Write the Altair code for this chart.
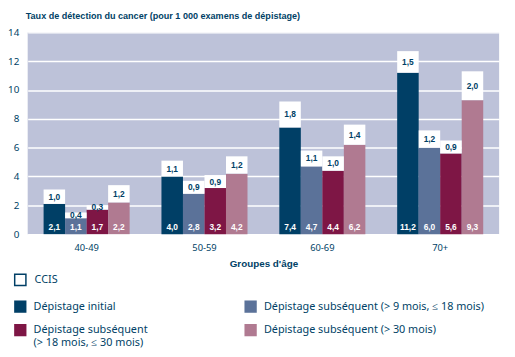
import altair as alt
import pandas as pd

NAVY = "#003F66"

groups = ["40-49", "50-59", "60-69", "70+"]
series = [
    "Dépistage initial",
    "Dépistage subséquent (> 9 mois, ≤ 18 mois)",
    "Dépistage subséquent (> 18 mois, ≤ 30 mois)",
    "Dépistage subséquent (> 30 mois)",
]
colors = ["#003F66", "#5B7299", "#7E1645", "#B07A91"]

# invasive cancer detection rate (coloured part)
inv_initial = [2.1, 4.0, 7.4, 11.2]
inv_9_18 = [1.1, 2.8, 4.7, 6.0]
inv_18_30 = [1.7, 3.2, 4.4, 5.6]
inv_30 = [2.2, 4.2, 6.2, 9.3]

# CCIS rate (white part)
ccis_initial = [1.0, 1.1, 1.8, 1.5]
ccis_9_18 = [0.4, 0.9, 1.1, 1.2]
ccis_18_30 = [0.3, 0.9, 1.0, 0.9]
ccis_30 = [1.2, 1.2, 1.4, 2.0]

y_ticks = [0, 2, 4, 6, 8, 10, 12, 14]

inv_all = [inv_initial, inv_9_18, inv_18_30, inv_30]
ccis_all = [ccis_initial, ccis_9_18, ccis_18_30, ccis_30]
rows = []
for s, invs, cc in zip(series, inv_all, ccis_all):
    for g, a, b in zip(groups, invs, cc):
        rows.append({"group": g, "series": s, "inv": a, "ccis": b})
df = pd.DataFrame(rows)

FONT = "Noto Sans"
BOLD = "Liberation Sans"

base = alt.Chart(df).transform_calculate(
    top="datum.inv + datum.ccis",
    mid="datum.inv + datum.ccis / 2",
    zero="0",
    cat="'CCIS'",
    inv_lbl="replace(format(datum.inv, '.1f'), '.', ',')",
    ccis_lbl="replace(format(datum.ccis, '.1f'), '.', ',')",
).encode(
    x=alt.X(
        "group:N",
        sort=groups,
        scale=alt.Scale(paddingInner=0.27, paddingOuter=0.135),
        axis=alt.Axis(
            title="Groupes d'âge",
            titleFont=BOLD,
            titleFontSize=10,
            titleFontWeight="bold",
            titleColor=NAVY,
            titlePadding=6,
            labelAngle=0,
            labelFont=FONT,
            labelFontSize=9.5,
            labelColor=NAVY,
            labelPadding=9,
            domain=False,
            ticks=False,
            grid=False,
        ),
    ),
    xOffset=alt.XOffset("series:N", sort=series,
                        scale=alt.Scale(paddingInner=0, paddingOuter=0)),
)

yscale = alt.Scale(domain=[0, 14], nice=False)
yaxis = alt.Axis(
    values=y_ticks,
    title=None,
    grid=True,
    gridColor="white",
    gridWidth=1.5,
    domain=False,
    ticks=False,
    labelOverlap=False,
    labelFont=FONT,
    labelFontSize=10,
    labelColor=NAVY,
    labelPadding=9,
)

bars = base.mark_bar().encode(
    y=alt.Y("inv:Q", scale=yscale, axis=yaxis),
    color=alt.Color(
        "series:N",
        sort=series,
        scale=alt.Scale(domain=series, range=colors),
        legend=alt.Legend(
            title=None,
            orient="none",
            legendX=-14,
            legendY=272,
            direction="horizontal",
            columns=2,
            columnPadding=98,
            rowPadding=11,
            symbolType="square",
            symbolSize=156,
            symbolStrokeWidth=0,
            labelFont=FONT,
            labelFontSize=11,
            labelColor=NAVY,
            labelOffset=7,
            labelLimit=400,
            labelExpr="indexof(datum.label, '> 18') >= 0 ? ['Dépistage subséquent', '(> 18 mois, ≤ 30 mois)'] : datum.label",
        ),
    ),
)

white = base.mark_bar().encode(
    y=alt.Y("inv:Q", scale=yscale, axis=yaxis),
    y2="top:Q",
    fill=alt.Fill(
        "cat:N",
        scale=alt.Scale(domain=["CCIS"], range=["white"]),
        legend=alt.Legend(
            title=None,
            orient="none",
            legendX=-14,
            legendY=245,
            symbolType="square",
            symbolSize=130,
            symbolStrokeColor=NAVY,
            symbolStrokeWidth=1.5,
            labelFont=FONT,
            labelFontSize=11,
            labelColor=NAVY,
            labelOffset=8,
        ),
    ),
)

inv_text = base.mark_text(
    font=BOLD, fontSize=8.5, fontWeight="bold", color="white",
    baseline="middle", dy=-7,
).encode(y=alt.Y("zero:Q", scale=yscale, axis=yaxis), text="inv_lbl:N")

ccis_text = base.mark_text(
    font=BOLD, fontSize=8.5, fontWeight="bold", color=NAVY,
    baseline="middle",
).encode(y=alt.Y("mid:Q", scale=yscale, axis=yaxis), text="ccis_lbl:N")

chart = alt.layer(bars, white, inv_text, ccis_text).properties(
    width=479,
    height=205,
    title=alt.TitleParams(
        "Taux de détection du cancer (pour 1 000 examens de dépistage)",
        anchor="start",
        frame="group",
        font=BOLD,
        fontSize=9.2,
        fontWeight="bold",
        color=NAVY,
        baseline="alphabetic",
        offset=8,
        dx=-2,
        dy=8.5,
    ),
    autosize=alt.AutoSizeParams(type="none"),
    padding={"left": 20, "top": 22, "right": 8, "bottom": 120},
).configure_view(fill="#BDC2D9", stroke=None).configure_legend(padding=0)

chart.save("out.html", embed_options={"renderer": "svg", "actions": False})
